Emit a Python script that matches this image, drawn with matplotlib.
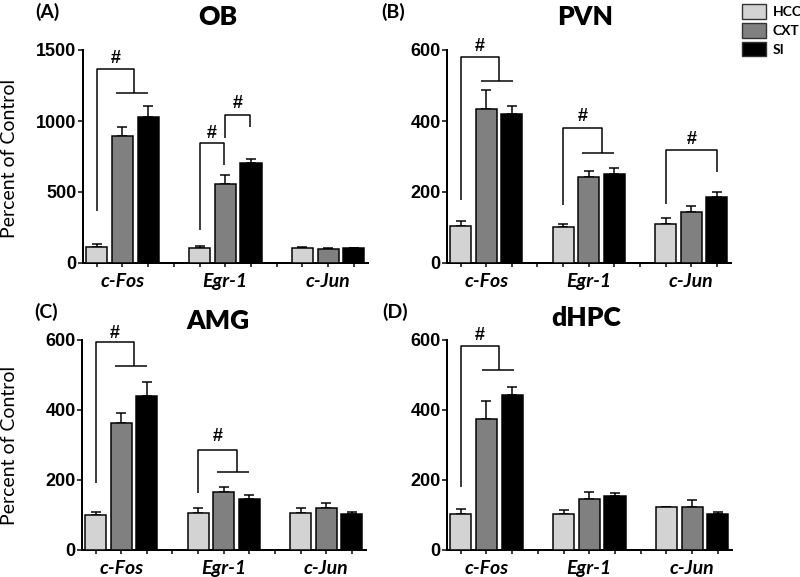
import matplotlib
matplotlib.use("Agg")
import matplotlib.pyplot as plt
from matplotlib.patches import Patch

# ---------------- data ----------------
GENES = ["c-Fos", "Egr-1", "c-Jun"]
GROUPS = ["HCC", "CXT", "SI"]
COLORS = ["#d3d3d3", "#808080", "#000000"]

OB_HCC = [112, 105, 105]
OB_HCC_ERR = [24, 17, 7]
OB_CXT = [895, 558, 100]
OB_CXT_ERR = [66, 63, 8]
OB_SI = [1031, 703, 105]
OB_SI_ERR = [75, 28, 3]

PVN_HCC = [103, 100, 110]
PVN_HCC_ERR = [14, 10, 17]
PVN_CXT = [434, 241, 145]
PVN_CXT_ERR = [54, 17, 16]
PVN_SI = [419, 252, 187]
PVN_SI_ERR = [24, 15, 12]

AMG_HCC = [100, 107, 107]
AMG_HCC_ERR = [9, 12, 12]
AMG_CXT = [362, 167, 119]
AMG_CXT_ERR = [29, 13, 14]
AMG_SI = [441, 147, 102]
AMG_SI_ERR = [40, 10, 7]

DHPC_HCC = [104, 104, 124]
DHPC_HCC_ERR = [12, 9, 0]
DHPC_CXT = [374, 146, 122]
DHPC_CXT_ERR = [52, 21, 22]
DHPC_SI = [444, 153, 104]
DHPC_SI_ERR = [22, 9, 6]

YTICKS_OB = [0, 500, 1000, 1500]
YTICKS_OTHER = [0, 200, 400, 600]

# significance brackets: ("group", x0, ylow, ytop, xm, ymid, xa, xb, yhash)
#                        ("pair",  x0, ylow, ytop, x1, ylow2, yhash)
OB_SIG = [("group", 0, 363, 1366, 1.45, 1195, 0.75, 2.0, 1440),
          ("pair", 4, 234, 844, 4.95, 691, 914),
          ("pair", 5.0, 879, 1043, 5.97, 961, 1125)]
PVN_SIG = [("group", 0, 178, 579, 1.5, 514, 0.8, 2.05, 609),
           ("group", 4, 164, 380, 5.5, 311, 4.75, 6.0, 412),
           ("pair", 8, 167, 317, 10, 256, 347)]
AMG_SIG = [("group", 0, 192, 595, 1.5, 526, 0.75, 2.0, 619),
           ("group", 4, 162, 287, 5.5, 223, 4.75, 6.0, 325)]
DHPC_SIG = [("group", 0, 179, 582, 1.5, 513, 0.82, 2.08, 612)]

PANELS = [
    ("(A)", "OB", [OB_HCC, OB_CXT, OB_SI], [OB_HCC_ERR, OB_CXT_ERR, OB_SI_ERR], YTICKS_OB, OB_SIG),
    ("(B)", "PVN", [PVN_HCC, PVN_CXT, PVN_SI], [PVN_HCC_ERR, PVN_CXT_ERR, PVN_SI_ERR], YTICKS_OTHER, PVN_SIG),
    ("(C)", "AMG", [AMG_HCC, AMG_CXT, AMG_SI], [AMG_HCC_ERR, AMG_CXT_ERR, AMG_SI_ERR], YTICKS_OTHER, AMG_SIG),
    ("(D)", "dHPC", [DHPC_HCC, DHPC_CXT, DHPC_SI], [DHPC_HCC_ERR, DHPC_CXT_ERR, DHPC_SI_ERR], YTICKS_OTHER, DHPC_SIG),
]

# ---------------- layout (pixels) ----------------
W, H = 800, 577
PX = 0.72  # points per pixel at dpi 100
fig = plt.figure(figsize=(W / 100, H / 100), dpi=100)

def fx(x):
    return x / W

def fy(y):
    return 1 - y / H

AX_BOX = [(83, 368, 50, 263), (447, 731, 50, 263), (82, 366, 340, 550), (447, 732, 340, 550)]
TITLE_POS = [(218, 17), (585, 17), (218, 321), (586, 318)]
LABEL_POS = [(47, 12), (393, 12), (46, 312), (395, 312)]

TICK_FONT = dict(family="Liberation Sans", weight="bold", size=13)
LW = 1.5 * PX

for i, (plabel, title, means, errs, yticks, sigs) in enumerate(PANELS):
    l, r, t, b = AX_BOX[i]
    ax = fig.add_axes([fx(l), fy(b), fx(r - l), (b - t) / H])
    for k in range(3):
        xs = [4 * g + k for g in range(3)]
        ax.bar(xs, means[k], width=0.82, color=COLORS[k], edgecolor="black",
               linewidth=LW, zorder=3)
        ax.errorbar(xs, means[k], yerr=[[0] * 3, errs[k]], fmt="none",
                    ecolor="black", elinewidth=LW, capsize=5 * PX,
                    capthick=LW, zorder=2)
    ax.set_xlim(-0.53, 10.55)
    ax.set_ylim(yticks[0], yticks[-1])
    ax.set_yticks(yticks)
    ax.set_yticklabels([str(v) for v in yticks], fontdict=TICK_FONT)
    ax.set_xticks([1, 5, 9])
    ax.set_xticklabels(GENES, family="Lato", weight="bold", style="italic", size=14)
    ax.set_xticks([0, 2, 3, 4, 6, 7, 8, 10], minor=True)
    ax.tick_params(axis="x", which="both", length=4 * PX, width=LW, direction="out", pad=4)
    ax.tick_params(axis="y", length=5 * PX, width=LW, direction="out", pad=1)
    for s in ["top", "right"]:
        ax.spines[s].set_visible(False)
    for s in ["left", "bottom"]:
        ax.spines[s].set_linewidth(2 * PX)
    ax.patch.set_alpha(0)

    for sg in sigs:
        kw = dict(color="black", lw=LW, clip_on=False, zorder=4, solid_capstyle="butt")
        if sg[0] == "group":
            _, x0, ylo, ytop, xm, ymid, xa, xb, yh = sg
            ax.plot([x0, x0, xm, xm], [ylo, ytop, ytop, ymid], **kw)
            ax.plot([xa, xb], [ymid, ymid], **kw)
            ax.text((x0 + xm) / 2, yh, "#", ha="center", va="center",
                    family="Liberation Sans", weight="bold", size=13, clip_on=False)
        else:
            _, x0, ylo, ytop, x1, ylo2, yh = sg
            ax.plot([x0, x0, x1, x1], [ylo, ytop, ytop, ylo2], **kw)
            ax.text((x0 + x1) / 2, yh, "#", ha="center", va="center",
                    family="Liberation Sans", weight="bold", size=13, clip_on=False)

    tx, ty = TITLE_POS[i]
    fig.text(fx(tx), fy(ty), title, ha="center", va="center",
             family="Lato", weight="heavy", size=19)
    lx, ly = LABEL_POS[i]
    fig.text(fx(lx), fy(ly), plabel, ha="center", va="center",
             family="Lato", weight="bold", size=14)

# y-axis labels
fig.text(fx(10), fy(158), "Percent of Control", rotation=90, ha="center", va="center",
         family="Lato", size=14)
fig.text(fx(10), fy(445), "Percent of Control", rotation=90, ha="center", va="center",
         family="Lato", size=14)

# legend
handles = [Patch(facecolor=c, edgecolor="#333333", linewidth=1.0) for c in COLORS]
fig.legend(handles, GROUPS, loc="upper left", bbox_to_anchor=(fx(742), fy(4)),
           frameon=False, prop=dict(family="Lato", weight="bold", size=10),
           handlelength=1.7, handleheight=1.25, handletextpad=0.5,
           labelspacing=0.3, borderpad=0, borderaxespad=0)

fig.savefig("out.png", dpi=100)
